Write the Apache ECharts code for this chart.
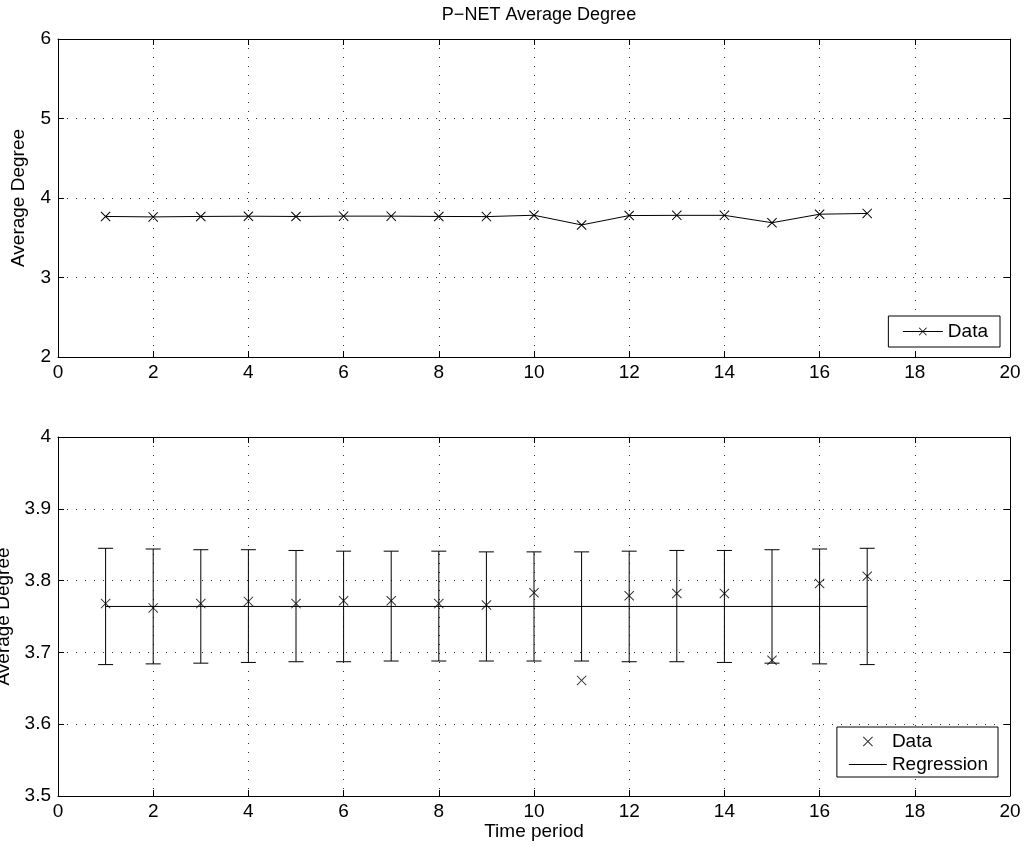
<!DOCTYPE html>
<html>
<head>
<meta charset="utf-8">
<script src="https://cdn.jsdelivr.net/npm/echarts@6/dist/echarts.min.js"></script>
<style>
html,body{margin:0;padding:0;background:#fff;}
#chart{width:1029px;height:853px;}
</style>
</head>
<body>
<div id="chart"></div>
<script>
// ---- data ----
const timePeriods = [1,2,3,4,5,6,7,8,9,10,11,12,13,14,15,16,17];
const avgDegree = [3.768,3.762,3.768,3.771,3.768,3.772,3.772,3.768,3.766,3.783,3.661,3.779,3.782,3.782,3.689,3.796,3.806];
const regX = [1,17];
const regY = [3.764,3.764];
const ciLower = [3.683,3.684,3.685,3.686,3.687,3.687,3.688,3.688,3.688,3.688,3.688,3.687,3.687,3.686,3.685,3.684,3.683];
const ciUpper = [3.845,3.844,3.843,3.843,3.842,3.841,3.841,3.841,3.840,3.840,3.840,3.841,3.842,3.842,3.843,3.844,3.845];
const xTicks = {min:0, max:20, interval:2};
const topY = {min:2, max:6, interval:1};
const botY = {min:3.5, max:4, interval:0.1};
const titleText = 'P\u2212NET Average Degree';
const yName = 'Average Degree';
const xName = 'Time period';

const FONT = 'Liberation Sans, Arial, Helvetica, sans-serif';
const FS = 19;
const crossPath = 'path://M0,0.7L0.7,0L5,4.3L9.3,0L10,0.7L5.7,5L10,9.3L9.3,10L5,5.7L0.7,10L0,9.3L4.3,5Z';
const linePath = 'path://M0,0L40,0L40,1L0,1Z';

const grid0 = {left:58, right:19, top:39, height:318, containLabel:false, outerBoundsMode:'none'};
const grid1 = {left:58, right:19, top:437, height:359, containLabel:false, outerBoundsMode:'none'};

function xAx(gi, pos, labels, name){
  return {
    type:'value', gridIndex:gi, position:pos, min:xTicks.min, max:xTicks.max, interval:xTicks.interval,
    name: name || '', nameLocation:'middle', nameGap:26,
    nameTextStyle:{fontFamily:FONT, fontSize:FS, color:'#000'},
    axisLine:{show:true, onZero:false, lineStyle:{color:'#000', width:1}},
    axisTick:{show:true, inside:true, length:6, lineStyle:{color:'#000'}},
    axisLabel:{show:labels, fontFamily:FONT, fontSize:FS, color:'#000', margin:6},
    splitLine:{show:labels, lineStyle:{color:'#333', type:[1,8], width:1}}
  };
}
function yAx(gi, pos, labels, rng, name, gap, fmt){
  return {
    type:'value', gridIndex:gi, position:pos, min:rng.min, max:rng.max, interval:rng.interval,
    name: name || '', nameLocation:'middle', nameGap:gap, nameRotate:90,
    nameTextStyle:{fontFamily:FONT, fontSize:FS, color:'#000'},
    axisLine:{show:true, onZero:false, lineStyle:{color:'#000', width:1}},
    axisTick:{show:true, inside:true, length:6, lineStyle:{color:'#000'}},
    axisLabel:{show:labels, fontFamily:FONT, fontSize:FS, color:'#000', margin:7, formatter:fmt},
    splitLine:{show:labels, lineStyle:{color:'#333', type:[1,8], width:1}}
  };
}

const dataPairs = timePeriods.map((t,i)=>[t, avgDegree[i]]);
const regPairs = regX.map((x,i)=>[x, regY[i]]);
const ciData = timePeriods.map((t,i)=>[t, ciLower[i], ciUpper[i]]);

const chart = echarts.init(document.getElementById('chart'), null, {renderer:'canvas'});
chart.setOption({
  animation:false,
  backgroundColor:'#fff',
  title:{text:titleText, left:534, top:1, textAlign:'center',
    textStyle:{fontFamily:FONT, fontSize:18, fontWeight:'normal', color:'#000'}},
  grid:[grid0, grid1],
  xAxis:[xAx(0,'bottom',true), xAx(0,'top',false), xAx(1,'bottom',true,xName), xAx(1,'top',false)],
  yAxis:[yAx(0,'left',true,topY,yName,30), yAx(0,'right',false,topY),
         yAx(1,'left',true,botY,yName,44,v=>String(+v.toFixed(1))), yAx(1,'right',false,botY)],
  legend:[
    {data:['Data1'], formatter:()=>'Data', orient:'vertical', right:29, top:316,
     padding:[6,12,6,14], borderColor:'#000', borderWidth:1, backgroundColor:'#fff',
     itemWidth:40, itemHeight:10, selectedMode:false,
     lineStyle:{width:1, color:'#000'},
     textStyle:{fontFamily:FONT, fontSize:FS, color:'#000'}},
    {data:['Data2',{name:'Regression', icon:linePath}], formatter:n=>n==='Data2'?'Data':n, orient:'vertical', right:31, top:727,
     padding:[5,10,3,12], borderColor:'#000', borderWidth:1, backgroundColor:'#fff',
     itemWidth:38, itemHeight:10, itemGap:4, selectedMode:false,
     textStyle:{fontFamily:FONT, fontSize:FS, color:'#000'}}
  ],
  series:[
    {name:'Data1', type:'line', xAxisIndex:0, yAxisIndex:0, data:dataPairs,
     symbol:crossPath, symbolSize:10, showAllSymbol:true,
     itemStyle:{color:'#000'}, lineStyle:{color:'#000', width:1}},
    {name:'CI', type:'custom', xAxisIndex:2, yAxisIndex:2, data:ciData, z:2,
     renderItem:function(params, api){
       const x = api.value(0);
       const lo = api.coord([x, api.value(1)]);
       const hi = api.coord([x, api.value(2)]);
       const w = 7.5;
       const st = {stroke:'#000', lineWidth:1};
       return {type:'group', children:[
         {type:'line', shape:{x1:lo[0], y1:lo[1], x2:hi[0], y2:hi[1]}, style:st},
         {type:'line', shape:{x1:lo[0]-w, y1:lo[1], x2:lo[0]+w, y2:lo[1]}, style:st},
         {type:'line', shape:{x1:hi[0]-w, y1:hi[1], x2:hi[0]+w, y2:hi[1]}, style:st}
       ]};
     }},
    {name:'Regression', type:'line', xAxisIndex:2, yAxisIndex:2, data:regPairs,
     symbol:'none', itemStyle:{color:'#000'}, lineStyle:{color:'#000', width:1}},
    {name:'Data2', type:'scatter', xAxisIndex:2, yAxisIndex:2, data:dataPairs, z:3,
     symbol:crossPath, symbolSize:10, itemStyle:{color:'#000'}}
  ]
});
</script>
</body>
</html>
